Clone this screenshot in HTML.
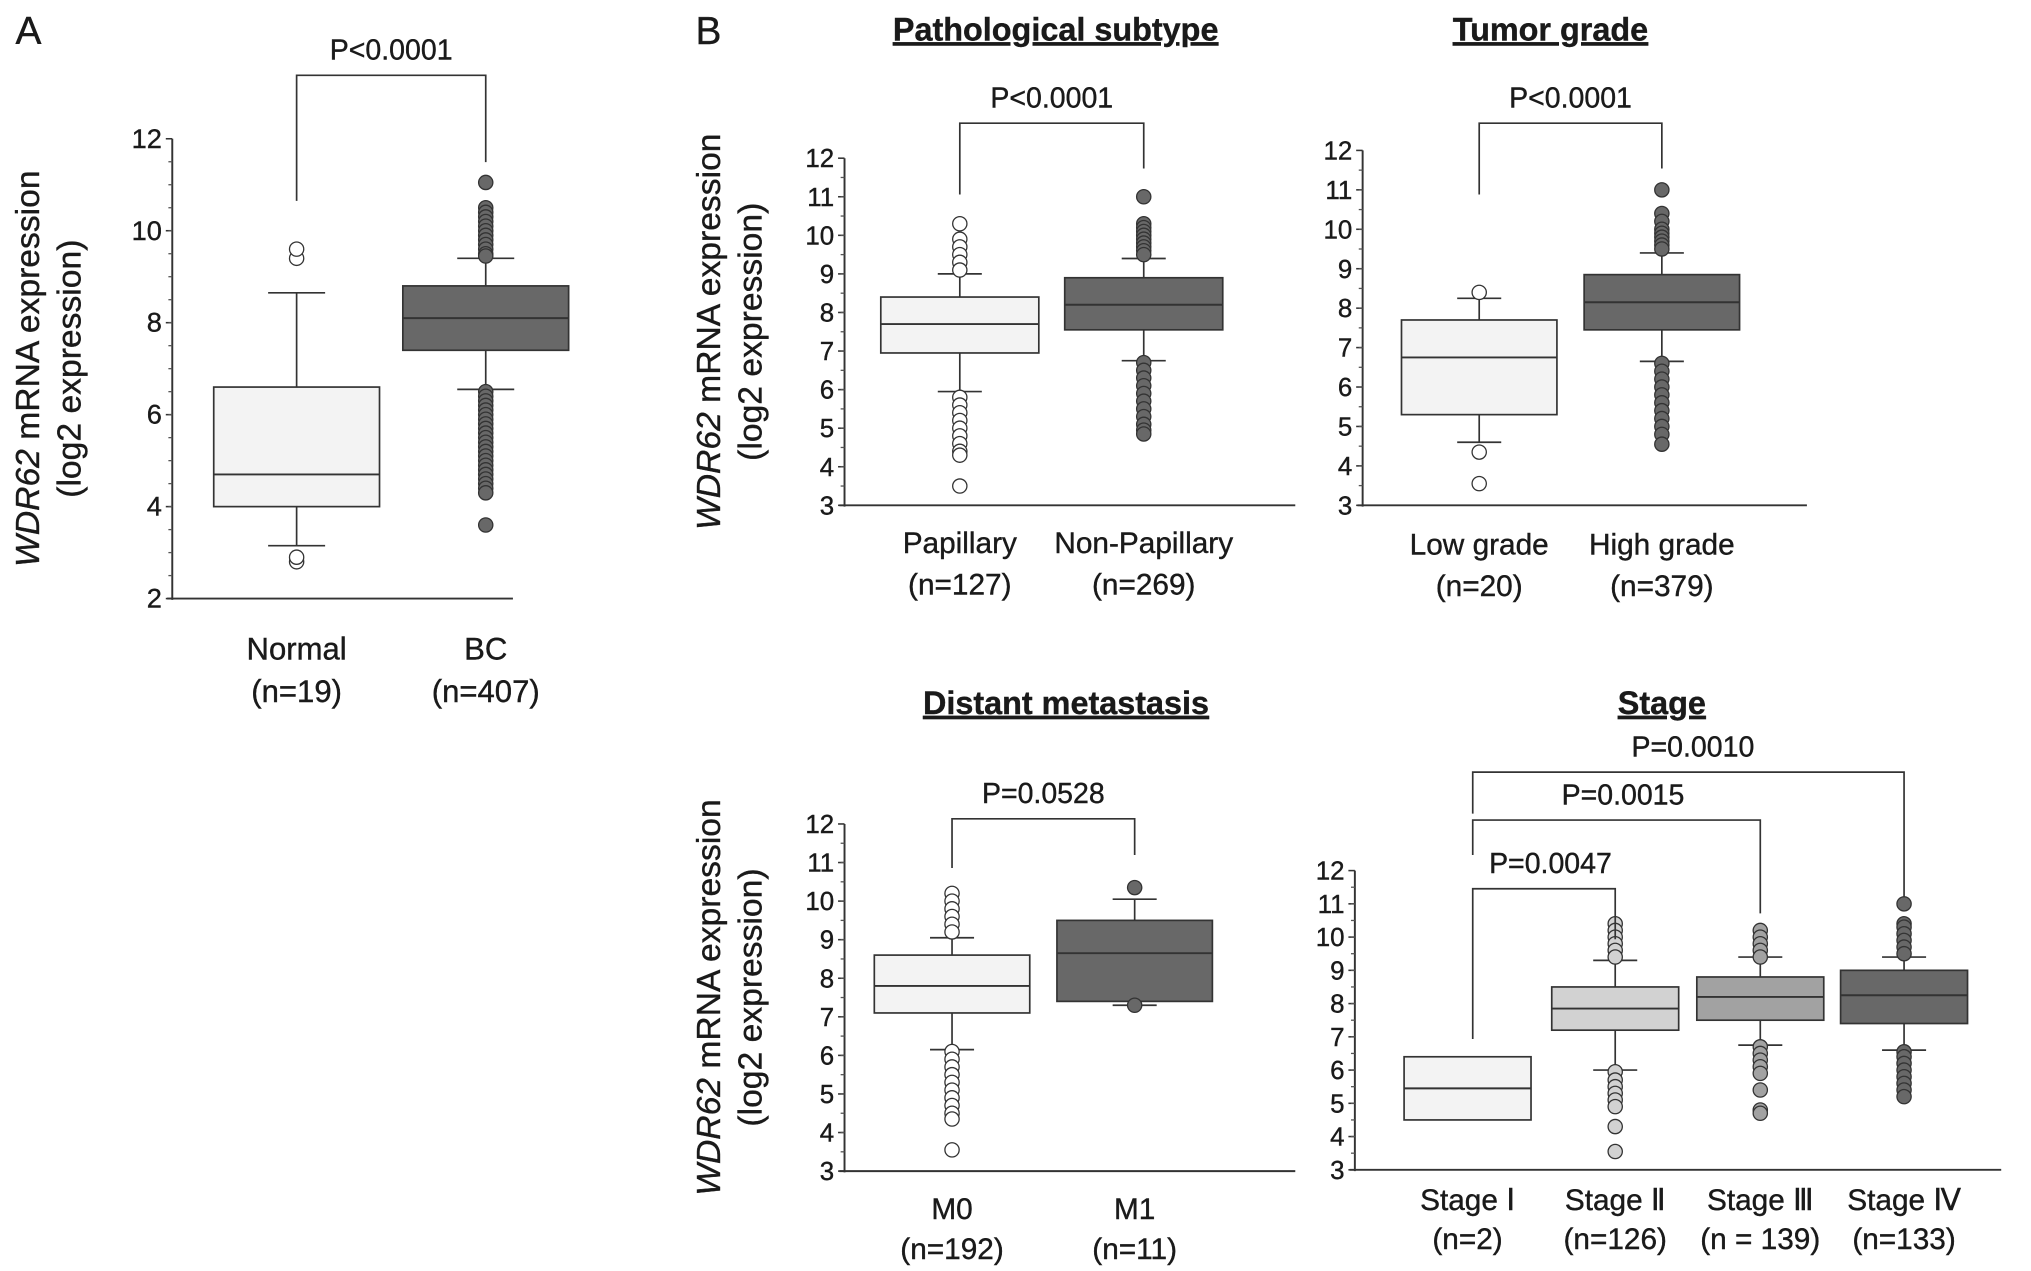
<!DOCTYPE html>
<html><head><meta charset="utf-8"><style>
html,body{margin:0;padding:0;background:#fff}
svg{display:block}
text{font-family:"Liberation Sans",sans-serif;fill:#1a1a1a;stroke:#1a1a1a;stroke-width:0.3}
</style></head><body>
<svg id="fig" width="2031" height="1271" viewBox="0 0 1568 981" xmlns="http://www.w3.org/2000/svg"></svg>
<script>
// Panel A
const catsA=["Normal","BC"], nA=["(n=19)","(n=407)"];
const q1A=[4.0,7.4], medA=[4.7,8.1], q3A=[6.6,8.8], loA=[3.15,6.55], hiA=[8.65,9.4];
const outA=[[9.4,9.6,2.8,2.9],[11.05,10.5,10.4,10.3,10.2,10.1,10.0,9.9,9.8,9.7,9.6,9.5,9.45,6.5,6.4,6.3,6.2,6.1,6.0,5.9,5.8,5.7,5.6,5.5,5.4,5.3,5.2,5.1,5.0,4.9,4.8,4.7,4.6,4.5,4.4,4.3,3.6]];
const ticksA=[2,4,6,8,10,12];
// Pathological subtype
const catsP=["Papillary","Non-Papillary"], nP=["(n=127)","(n=269)"];
const q1P=[6.95,7.55], medP=[7.7,8.2], q3P=[8.4,8.9], loP=[5.95,6.75], hiP=[9.0,9.4];
const outP=[[10.3,9.9,9.7,9.5,9.3,9.1,5.8,5.6,5.4,5.2,5.0,4.8,4.6,4.4,4.3,3.5],[11.0,10.3,10.2,10.1,10.0,9.9,9.8,9.7,9.6,9.5,6.7,6.5,6.3,6.1,5.9,5.7,5.5,5.3,5.1,4.95,4.85]];
// Tumor grade
const catsG=["Low grade","High grade"], nG=["(n=20)","(n=379)"];
const q1G=[5.3,7.45], medG=[6.75,8.15], q3G=[7.7,8.85], loG=[4.6,6.65], hiG=[8.25,9.4];
const outG=[[8.4,4.35,3.55],[11.0,10.4,10.2,10.0,9.9,9.8,9.7,9.6,9.5,6.6,6.4,6.2,6.0,5.8,5.6,5.4,5.2,5.0,4.8,4.55]];
// Distant metastasis
const catsM=["M0","M1"], nM=["(n=192)","(n=11)"];
const q1M=[7.1,7.4], medM=[7.8,8.65], q3M=[8.6,9.5], loM=[6.15,7.3], hiM=[9.05,10.05];
const outM=[[10.2,10.0,9.8,9.6,9.4,9.2,6.1,5.9,5.7,5.5,5.3,5.1,4.9,4.7,4.5,4.35,3.55],[10.35,7.3]];
// Stage
const catsS=["Stage \u2160","Stage \u2161","Stage \u2162","Stage \u2163"], nS=["(n=2)","(n=126)","(n = 139)","(n=133)"];
const q1S=[4.5,7.2,7.5,7.4], medS=[5.45,7.85,8.2,8.25], q3S=[6.4,8.5,8.8,9.0], loS=[null,6.0,6.75,6.6], hiS=[null,9.3,9.4,9.4];
const outS=[[],[10.4,10.2,10.0,9.8,9.6,9.4,5.95,5.7,5.5,5.3,5.1,4.9,4.3,3.55],[10.2,10.0,9.8,9.6,9.4,6.7,6.5,6.3,6.1,5.9,5.4,4.8,4.7],[11.0,10.4,10.3,10.1,9.9,9.7,9.5,6.55,6.4,6.2,6.0,5.8,5.6,5.4,5.2]];
const ticksB=[3,4,5,6,7,8,9,10,11,12];

const svg=document.getElementById('fig');
const NS="http://www.w3.org/2000/svg";
function mk(tag,attrs,name,parent){const e=document.createElementNS(NS,tag);for(const k in attrs)e.setAttribute(k,attrs[k]);


(parent||svg).appendChild(e);return e;}
function txt(x,y,s,size,name,anchor,extra){const t=mk('text',Object.assign({x:x,y:y,'font-size':size,'text-anchor':anchor||'middle'},extra||{}),name);t.textContent=s;return t;}

function panel(o){
  const g=mk('g',{},o.name);
  const y=v=>o.yTop+(o.ymax-v)/(o.ymax-o.ymin)*(o.yBot-o.yTop);
  mk('line',{x1:o.ax,y1:o.yTop,x2:o.ax,y2:o.yBot+1,stroke:'#333','stroke-width':1.5},'y-axis',g);
  mk('line',{x1:o.ax-4,y1:o.yBot,x2:o.axEnd,y2:o.yBot,stroke:'#333','stroke-width':1.5},'x-axis',g);
  o.ticks.forEach(t=>{mk('line',{x1:o.ax-5,y1:y(t),x2:o.ax,y2:y(t),stroke:'#333','stroke-width':1.2},'y-tick',g);
    txt(o.ax-8,y(t)+7,String(t),o.tickSize,'y-tick-label','end');});
  for(let v=o.ymin+o.minor;v<o.ymax;v+=o.minor){mk('line',{x1:o.ax-3,y1:y(v),x2:o.ax,y2:y(v),stroke:'#555','stroke-width':1},'y-minor-tick',g);}
  o.cats.forEach((c,i)=>{
    const cx=o.cx[i],hw=o.hw,col=o.fill[i];
    if(o.lo[i]!=null){
      mk('line',{x1:cx,y1:y(o.hi[i]),x2:cx,y2:y(o.q3[i]),stroke:'#333','stroke-width':1.3},'whisker-upper',g);
      mk('line',{x1:cx,y1:y(o.lo[i]),x2:cx,y2:y(o.q1[i]),stroke:'#333','stroke-width':1.3},'whisker-lower',g);
      mk('line',{x1:cx-o.cap,y1:y(o.hi[i]),x2:cx+o.cap,y2:y(o.hi[i]),stroke:'#333','stroke-width':1.3},'whisker-cap',g);
      mk('line',{x1:cx-o.cap,y1:y(o.lo[i]),x2:cx+o.cap,y2:y(o.lo[i]),stroke:'#333','stroke-width':1.3},'whisker-cap',g);
    }
    mk('rect',{x:cx-hw,y:y(o.q3[i]),width:2*hw,height:y(o.q1[i])-y(o.q3[i]),fill:col,stroke:'#333','stroke-width':1.3},'box-'+c.toLowerCase().replace(/[^a-z0-9]+/g,'-'),g);
    mk('line',{x1:cx-hw,y1:y(o.med[i]),x2:cx+hw,y2:y(o.med[i]),stroke:'#333','stroke-width':1.5},'median-line',g);
    o.out[i].forEach(v=>mk('circle',{cx:cx,cy:y(v),r:5.5,fill:col==='#f3f3f3'?'#fff':col,stroke:'#333','stroke-width':1},'outlier',g));
    txt(cx,o.yBot+o.lab1,c,o.labSize,'x-label');
    txt(cx,o.yBot+o.lab2,o.n[i],o.labSize,'n-label');
  });
  if(o.title){txt(o.titleX,o.titleY,o.title,25,'panel-title','middle',{'text-decoration':'underline','font-weight':'600'});}
  if(o.ytitle){
    const t=mk('text',{transform:`translate(${o.ytx},${(o.yTop+o.yBot)/2}) rotate(-90)`,'font-size':o.ytSize,'text-anchor':'middle'},'y-axis-title',g);
    const a=document.createElementNS(NS,'tspan');a.setAttribute('font-style','italic');a.textContent='WDR62';t.appendChild(a);
    t.appendChild(document.createTextNode(' mRNA expression'));
    const b=mk('text',{transform:`translate(${o.ytx+32},${(o.yTop+o.yBot)/2}) rotate(-90)`,'font-size':o.ytSize,'text-anchor':'middle'},'y-axis-title-line2',g);
    b.textContent='(log2 expression)';
  }
  o.brackets.forEach(br=>{
    mk('path',{d:`M${br.x1},${br.d1} V${br.top} H${br.x2} V${br.d2}`,fill:'none',stroke:'#333','stroke-width':1.3},'significance-bracket',g);
    txt((br.lx!=null?br.lx:(br.x1+br.x2)/2),br.top-12,br.p,22,'p-value');
  });
}
txt(22,34,'A',30,'panel-label-a','middle');
txt(547,34,'B',30,'panel-label-b','middle');
const light='#f3f3f3',dark='#686868';
panel({name:'panel-a',cats:catsA,n:nA,q1:q1A,med:medA,q3:q3A,lo:loA,hi:hiA,out:outA,ticks:ticksA,ymin:2,ymax:12,minor:0.5,
 ax:133,axEnd:396,yTop:107,yBot:462,cx:[229,375],hw:64,cap:22,fill:[light,dark],tickSize:21,labSize:24,lab1:47,lab2:80,
 ytitle:true,ytx:30,ytSize:26,brackets:[{x1:229,x2:375,top:58,d1:155,d2:125,p:'P<0.0001'}]});
panel({name:'panel-pathological',cats:catsP,n:nP,q1:q1P,med:medP,q3:q3P,lo:loP,hi:hiP,out:outP,ticks:ticksB,ymin:3,ymax:12,minor:0.5,
 ax:652,axEnd:1000,yTop:122,yBot:390,cx:[741,883],hw:61,cap:17,fill:[light,dark],tickSize:20,labSize:23,lab1:37,lab2:69,
 title:'Pathological subtype',titleX:815,titleY:31,ytitle:true,ytx:556,ytSize:26,brackets:[{x1:741,x2:883,top:95,d1:150,d2:130,p:'P<0.0001'}]});
panel({name:'panel-grade',cats:catsG,n:nG,q1:q1G,med:medG,q3:q3G,lo:loG,hi:hiG,out:outG,ticks:ticksB,ymin:3,ymax:12,minor:0.5,
 ax:1052,axEnd:1395,yTop:116,yBot:390,cx:[1142,1283],hw:60,cap:17,fill:[light,dark],tickSize:20,labSize:23,lab1:38,lab2:70,
 title:'Tumor grade',titleX:1197,titleY:31,brackets:[{x1:1142,x2:1283,top:95,d1:150,d2:130,p:'P<0.0001'}]});
panel({name:'panel-metastasis',cats:catsM,n:nM,q1:q1M,med:medM,q3:q3M,lo:loM,hi:hiM,out:outM,ticks:ticksB,ymin:3,ymax:12,minor:0.5,
 ax:652,axEnd:1000,yTop:636,yBot:904,cx:[735,876],hw:60,cap:17,fill:[light,dark],tickSize:20,labSize:23,lab1:37,lab2:68,
 title:'Distant metastasis',titleX:823,titleY:551,ytitle:true,ytx:556,ytSize:26,brackets:[{x1:735,x2:876,top:632,d1:670,d2:660,p:'P=0.0528'}]});
panel({name:'panel-stage',cats:catsS,n:nS,q1:q1S,med:medS,q3:q3S,lo:loS,hi:hiS,out:outS,ticks:ticksB,ymin:3,ymax:12,minor:0.5,
 ax:1046,axEnd:1545,yTop:672,yBot:903,cx:[1133,1247,1359,1470],hw:49,cap:17,fill:[light,'#d2d2d2','#a2a2a2',dark],tickSize:20,labSize:23,lab1:31,lab2:61,
 title:'Stage',titleX:1283,titleY:551,brackets:[
  {x1:1137,x2:1247,top:686,d1:802,d2:725,p:'P=0.0047',lx:1197},
  {x1:1137,x2:1359,top:633,d1:660,d2:705,p:'P=0.0015',lx:1253},
  {x1:1137,x2:1470,top:596,d1:628,d2:692,p:'P=0.0010',lx:1307}]});
</script>
</body></html>
